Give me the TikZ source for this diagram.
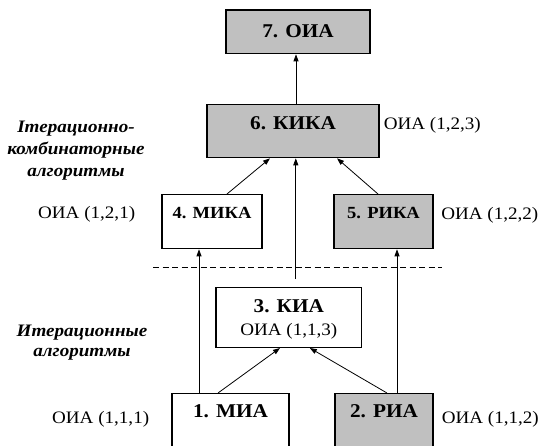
\documentclass[tikz,border=0pt]{standalone}
\usepackage{fontspec}
\setmainfont{Liberation Serif}[FakeStretch=1.09]
\usepackage{tikz}
\usetikzlibrary{arrows.meta}
\definecolor{boxgrey}{RGB}{192,192,192}

\begin{document}
\begin{tikzpicture}[x=1pt, y=-1pt,
    every node/.style={inner sep=0pt},
    box/.style={draw, line width=1.3pt, anchor=north, font=\fontsize{19.5}{22}\selectfont\bfseries},
    small/.style={font=\fontsize{17}{20}\selectfont\bfseries},
    grey/.style={fill=boxgrey},
    oia/.style={font=\fontsize{17.5}{20}\selectfont},
    group/.style={align=center, font=\fontsize{17.5}{22}\selectfont\bfseries\itshape},
    arr/.style={-{Triangle[length=7pt,width=5pt]}, line width=0.8pt}]
    \useasboundingbox (0,0) rectangle (540,445);
    % blokken
    \node[box, grey, minimum width=144pt, text height=28pt, text depth=15.7pt] (n7) at (298,9.3) {7. ОИА};
    \node[box, grey, minimum width=172pt, text height=25.3pt, text depth=27.7pt] (n6) at (293,104) {6. КИКА};
    \node[box, small, minimum width=100pt, text height=24pt, text depth=30pt] (n4) at (212,194) {4. МИКА};
    \node[box, small, grey, minimum width=99pt, text height=24pt, text depth=30pt] (n5) at (383.5,194) {5. РИКА};
    \node[box, minimum width=145.7pt, text height=25pt, text depth=35pt] (n3) at (288.8,286.7) {3. КИА};
    \node[oia, anchor=base] (n3b) at ([yshift=-23.3pt]n3.base) {ОИА (1,1,3)};
    \node[box, minimum width=117pt, text height=24pt, text depth=30pt] (n1) at (230.5,393) {1. МИА};
    \node[box, grey, minimum width=98pt, text height=24pt, text depth=30pt] (n2) at (384,393) {2. РИА};
    % ОИА-метки
    \node[oia, anchor=base west] (l6) at ([xshift=4pt]n6.base east) {ОИА (1,2,3)};
    \node[oia, anchor=base east] (l4) at ([xshift=-26pt]n4.base west) {ОИА (1,2,1)};
    \node[oia, anchor=base west] (l5) at ([xshift=7.5pt,yshift=-1pt]n5.base east) {ОИА (1,2,2)};
    \node[oia, anchor=base east] (l1) at ([xshift=-22pt,yshift=-6pt]n1.base west) {ОИА (1,1,1)};
    \node[oia, anchor=base west] (l2) at ([xshift=8pt,yshift=-6pt]n2.base east) {ОИА (1,1,2)};
    % группы
    \node[group] (g1) at (76,151) {Ітерационно-\\комбинаторные\\алгоритмы};
    \node[group] (g2) at (82,343) {Итерационные\\[-2pt]алгоритмы};
    % граница уровней
    \coordinate (dl) at (153,267.5);
    \coordinate (dr) at (442,267.5);
    \draw[line width=0.8pt, dash pattern=on 6pt off 3.5pt] (dl) -- (dr);
    % связи
    \draw[arr] ([xshift=3pt]n6.north) -- ([xshift=3pt]n6.north |- n7.south);
    \draw[arr] ([xshift=15pt]n4.north) -- ([xshift=-23pt]n6.south);
    \draw[arr] ([xshift=-5.5pt]n5.north) -- ([xshift=44pt]n6.south);
    \draw[arr] ([xshift=7pt,yshift=7.7pt]n3.north) -- ([xshift=7pt]n3.north |- n6.south);
    \draw[arr] ([xshift=-31.5pt]n1.north) -- ([xshift=-31.5pt]n1.north |- n4.south);
    \draw[arr] ([xshift=-12.5pt]n1.north) -- ([xshift=-8.8pt]n3.south);
    \draw[arr] ([xshift=3pt]n2.north) -- ([xshift=21pt]n3.south);
    \draw[arr] ([xshift=13pt]n2.north) -- ([xshift=13pt]n2.north |- n5.south);
\end{tikzpicture}
\end{document}
